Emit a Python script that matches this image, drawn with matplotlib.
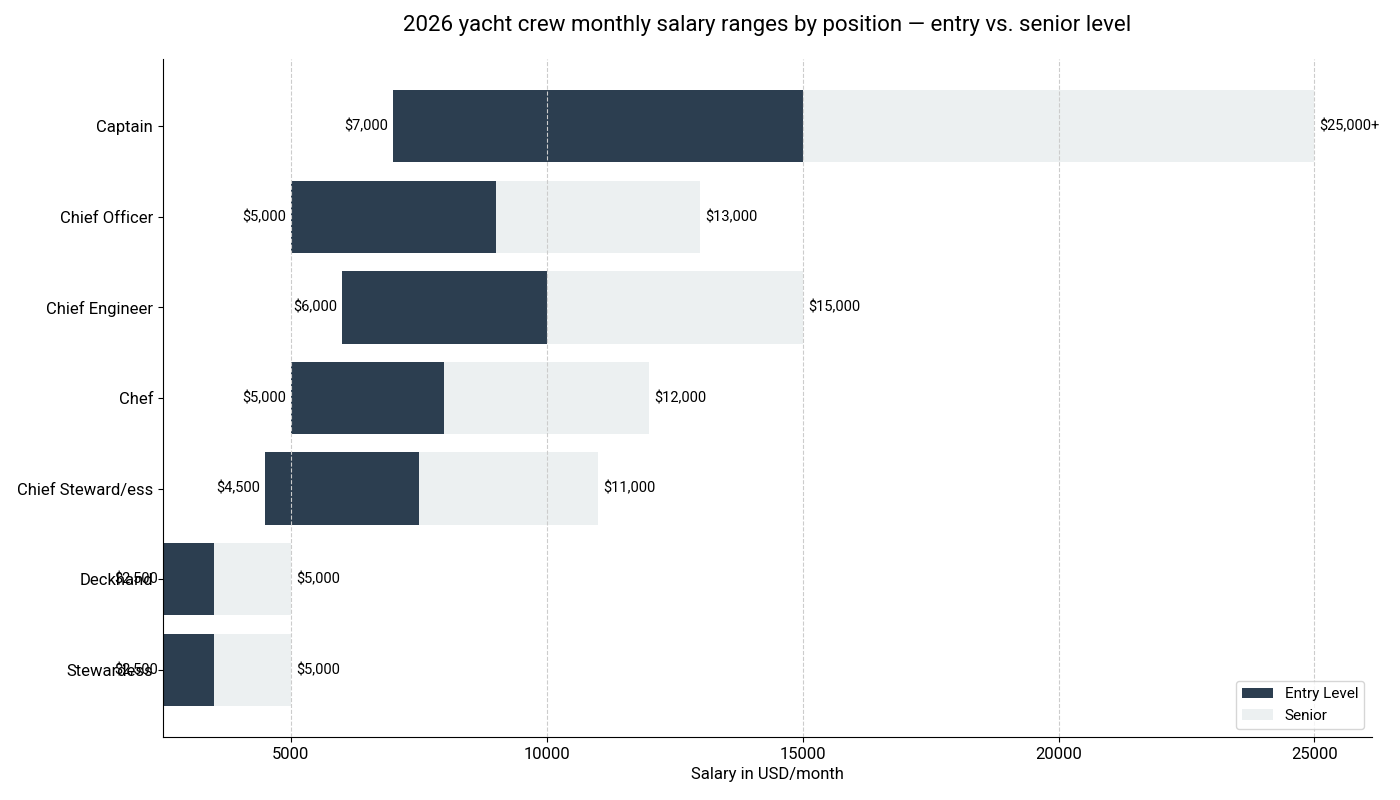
import matplotlib.pyplot as plt

plt.rcParams['font.family'] = ['Roboto', 'DejaVu Sans']

positions = ['Captain', 'Chief Officer', 'Chief Engineer', 'Chef',
             'Chief Steward/ess', 'Deckhand', 'Stewardess']
entry_min = [7000, 5000, 6000, 5000, 4500, 2500, 2500]
entry_max = [15000, 9000, 10000, 8000, 7500, 3500, 3500]
senior_max = [25000, 13000, 15000, 12000, 11000, 5000, 5000]
start_labels = ['$7,000', '$5,000', '$6,000', '$5,000', '$4,500', '$2,500', '$2,500']
end_labels = ['$25,000+', '$13,000', '$15,000', '$12,000', '$11,000', '$5,000', '$5,000']

dark = '#2c3e50'
light = '#ecf0f1'

fig, ax = plt.subplots(figsize=(14, 8), dpi=100)
fig.subplots_adjust(left=0.1164, right=0.98, top=0.926, bottom=0.079)

y = list(range(len(positions)))
entry_w = [b - a for a, b in zip(entry_min, entry_max)]
senior_w = [c - b for b, c in zip(entry_max, senior_max)]

ax.barh(y, entry_w, left=entry_min, height=0.8, color=dark, label='Entry Level')
ax.barh(y, senior_w, left=entry_max, height=0.8, color=light, label='Senior')

# start / end amounts beside each bar
for i in y:
    ax.text(entry_min[i] - 100, i, start_labels[i], ha='right', va='center', fontsize=10.5)
    ax.text(senior_max[i] + 100, i, end_labels[i], ha='left', va='center', fontsize=10.5)

ax.set_yticks(y)
ax.set_yticklabels(positions, fontsize=12)
ax.invert_yaxis()
ax.set_xlim(left=2500)
ax.tick_params(axis='x', labelsize=12)
ax.set_xlabel('Salary in USD/month', fontsize=12)
ax.set_title('2026 yacht crew monthly salary ranges by position \u2014 entry vs. senior level',
             fontsize=16, pad=20)

ax.grid(axis='x', linestyle='--', color='#cccccc', linewidth=0.8)
ax.set_axisbelow(False)
ax.spines['top'].set_visible(False)
ax.spines['right'].set_visible(False)

ax.legend(loc='lower right', fontsize=11)

fig.savefig('out.png')
